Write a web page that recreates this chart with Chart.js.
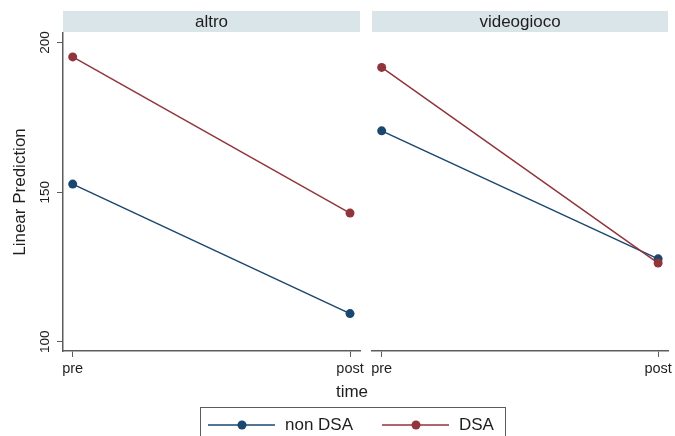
<!DOCTYPE html>
<html>
<head>
<meta charset="utf-8">
<script src="https://cdn.jsdelivr.net/npm/chart.js@4.4.1/dist/chart.umd.min.js"></script>
<style>
    html, body { margin: 0; padding: 0; background: #fff; }
    #wrap { position: relative; width: 675px; height: 436px; overflow: hidden; background: #fff; }
    #wrap canvas { position: absolute; left: 0; top: 0; }
</style>
</head>
<body>
<div id="wrap">
    <canvas id="left-panel" width="675" height="436"></canvas>
    <canvas id="right-panel" width="675" height="436"></canvas>
</div>
<script>
const panels = ['altro', 'videogioco'];
const timeLabels = ['pre', 'post'];
const timeValues = [0, 1];
const groups = ['non DSA', 'DSA'];
const nonDsaAltro = [152.7, 109.4];
const dsaAltro = [195.2, 143.0];
const nonDsaVideo = [170.5, 127.7];
const dsaVideo = [191.7, 126.3];
const yTicks = [100, 150, 200];
const groupColors = ['#1a476f', '#90353b'];

const FONT = '"Liberation Sans", Arial, Helvetica, sans-serif';
const AXIS = '#5c5c5c';
const TEXT = '#1e1e1e';

const makeDatasets = (nonDsa, dsa) => [nonDsa, dsa].map((vals, g) => ({
    label: groups[g],
    data: timeValues.map((t, i) => ({ x: t, y: vals[i] })),
    borderColor: groupColors[g],
    backgroundColor: groupColors[g],
    borderWidth: 1.5,
    pointRadius: 4.5,
    pointBorderWidth: 0,
    tension: 0,
    order: g === 0 ? 1 : 0
}));

// light strip with the panel name above each plot
const stripPlugin = {
    id: 'strip',
    beforeDraw(chart, args, opts) {
        const { ctx, chartArea } = chart;
        ctx.save();
        ctx.fillStyle = '#dae5ea';
        ctx.fillRect(chartArea.left, 11, chartArea.right - chartArea.left, 21);
        ctx.fillStyle = TEXT;
        ctx.font = '17px ' + FONT;
        ctx.textAlign = 'center';
        ctx.textBaseline = 'middle';
        ctx.fillText(opts.text, (chartArea.left + chartArea.right) / 2, 22);
        ctx.restore();
    }
};

// rotated y tick labels, shared x title and boxed legend
const extrasPlugin = {
    id: 'extras',
    afterDraw(chart) {
        const { ctx } = chart;
        const yScale = chart.scales.y;
        ctx.save();
        ctx.fillStyle = TEXT;
        ctx.font = '13.5px ' + FONT;
        ctx.textAlign = 'center';
        ctx.textBaseline = 'middle';
        yTicks.forEach(v => {
            ctx.save();
            ctx.translate(45, yScale.getPixelForValue(v));
            ctx.rotate(-Math.PI / 2);
            ctx.fillText(String(v), 0, 0);
            ctx.restore();
        });

        ctx.font = '17px ' + FONT;
        ctx.fillText('time', 352, 392);

        // legend
        ctx.strokeStyle = AXIS;
        ctx.lineWidth = 1;
        ctx.strokeRect(200.5, 407.5, 305, 40);
        const starts = [208, 382];
        chart.data.datasets.forEach((ds, i) => {
            const x0 = starts[i];
            const y = 425;
            ctx.strokeStyle = ds.borderColor;
            ctx.lineWidth = 1.5;
            ctx.beginPath();
            ctx.moveTo(x0, y);
            ctx.lineTo(x0 + 67, y);
            ctx.stroke();
            ctx.fillStyle = ds.borderColor;
            ctx.beginPath();
            ctx.arc(x0 + 34, y, 4.5, 0, Math.PI * 2);
            ctx.fill();
            ctx.fillStyle = TEXT;
            ctx.textAlign = 'left';
            ctx.fillText(ds.label, x0 + 77, y);
        });
        ctx.restore();
    }
};

const xScale = () => ({
    type: 'linear',
    min: -0.035,
    max: 1.036,
    afterBuildTicks: s => { s.ticks = timeValues.map(v => ({ value: v })); },
    afterFit: s => { s.height = 85; },
    ticks: {
        callback: v => timeLabels[timeValues.indexOf(v)],
        font: { family: FONT, size: 14.5 },
        color: TEXT,
        padding: 3,
        maxRotation: 0,
        autoSkip: false
    },
    grid: { display: true, drawOnChartArea: false, drawTicks: true, tickLength: 6, color: AXIS, lineWidth: 1 },
    border: { display: true, color: AXIS, width: 1.5 }
});

const baseOptions = (name, padding, showY) => ({
    responsive: false,
    animation: false,
    layout: { padding },
    plugins: {
        legend: { display: false },
        tooltip: { enabled: false },
        strip: { text: name }
    },
    scales: {
        x: xScale(),
        y: {
            display: showY,
            min: 96.9,
            max: 203.2,
            afterBuildTicks: s => { s.ticks = yTicks.map(v => ({ value: v })); },
            afterFit: s => { s.width = showY ? 63 : 0; },
            ticks: { color: 'rgba(0,0,0,0)', font: { family: FONT, size: 13.5 } },
            grid: { display: true, drawOnChartArea: false, drawTicks: true, tickLength: 6, color: AXIS, lineWidth: 1 },
            border: { display: true, color: AXIS, width: 1.5 },
            title: {
                display: true,
                text: 'Linear Prediction',
                color: TEXT,
                font: { family: FONT, size: 17 },
                padding: { top: 10, bottom: 0 }
            }
        }
    }
});

new Chart(document.getElementById('left-panel'), {
    type: 'line',
    data: { datasets: makeDatasets(nonDsaAltro, dsaAltro) },
    options: baseOptions(panels[0], { left: 0, right: 315, top: 33, bottom: 0 }, true),
    plugins: [stripPlugin, extrasPlugin]
});

new Chart(document.getElementById('right-panel'), {
    type: 'line',
    data: { datasets: makeDatasets(nonDsaVideo, dsaVideo) },
    options: baseOptions(panels[1], { left: 372, right: 5, top: 33, bottom: 0 }, false),
    plugins: [stripPlugin]
});
</script>
</body>
</html>
